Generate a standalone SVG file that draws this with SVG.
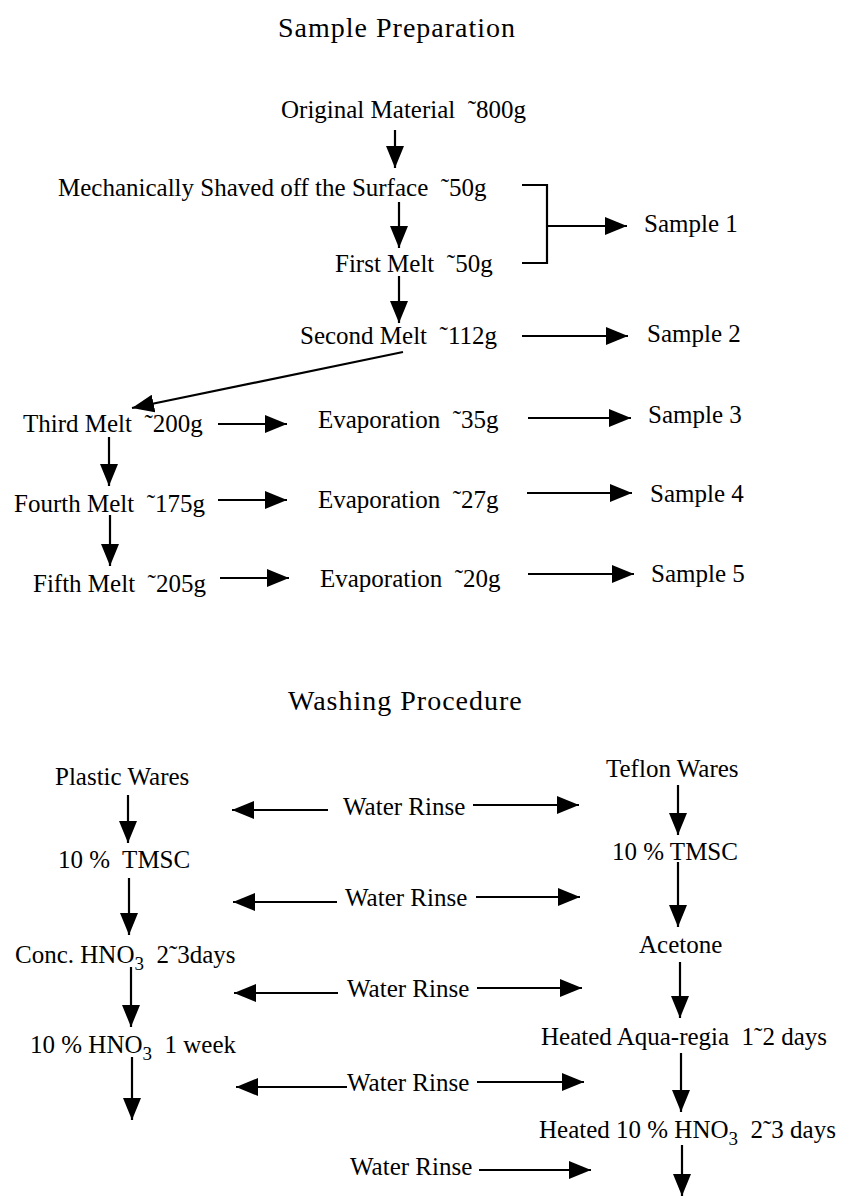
<svg xmlns="http://www.w3.org/2000/svg" width="848" height="1198" viewBox="0 0 848 1198">
<defs>
<style>
text{font-family:"Liberation Serif","Times New Roman",serif;font-size:25px;fill:#000}
.title{font-size:28px;letter-spacing:1px}
.c line,.c polyline{stroke:#000;stroke-width:2.2;fill:none}
.a{marker-end:url(#ah)}
</style>
<marker id="ah" viewBox="0 0 22 18" refX="22" refY="9" markerWidth="22" markerHeight="18" markerUnits="userSpaceOnUse" orient="auto">
<path d="M0,0 L22,9 L0,18 z" fill="#000"/>
</marker>
</defs>
<rect width="848" height="1198" fill="#fff"/>
<text class="title" x="278" y="37">Sample Preparation</text>
<g id="n-original"><text x="281" y="118">Original Material&#160; ˜800g</text></g>
<g id="n-mech"><text x="58" y="196">Mechanically Shaved off the Surface&#160; ˜50g</text></g>
<g id="n-sample1"><text x="644" y="232">Sample 1</text></g>
<g id="n-first"><text x="335" y="272">First Melt&#160; ˜50g</text></g>
<g id="n-second"><text x="300" y="344">Second Melt&#160; ˜112g</text></g>
<g id="n-sample2"><text x="647" y="342">Sample 2</text></g>
<g id="n-third"><text x="23" y="432">Third Melt&#160; ˜200g</text></g>
<g id="n-evap1"><text x="318" y="428">Evaporation&#160; ˜35g</text></g>
<g id="n-sample3"><text x="648" y="423">Sample 3</text></g>
<g id="n-fourth"><text x="14" y="512">Fourth Melt&#160; ˜175g</text></g>
<g id="n-evap2"><text x="318" y="508">Evaporation&#160; ˜27g</text></g>
<g id="n-sample4"><text x="650" y="502">Sample 4</text></g>
<g id="n-fifth"><text x="33" y="592">Fifth Melt&#160; ˜205g</text></g>
<g id="n-evap3"><text x="320" y="587">Evaporation&#160; ˜20g</text></g>
<g id="n-sample5"><text x="651" y="582">Sample 5</text></g>
<text class="title" x="288" y="710">Washing Procedure</text>
<g id="n-plastic"><text x="55" y="785">Plastic Wares</text></g>
<g id="n-ptmsc"><text x="58" y="868">10 %&#160; TMSC</text></g>
<g id="n-pconc"><text x="15" y="963">Conc. HNO<tspan dy="7" font-size="19">3</tspan><tspan dy="-7">&#160;&#160;2˜3days</tspan></text></g>
<g id="n-phno3"><text x="30" y="1053">10 % HNO<tspan dy="7" font-size="19">3</tspan><tspan dy="-7">&#160;&#160;1 week</tspan></text></g>
<g id="n-teflon"><text x="606" y="777">Teflon Wares</text></g>
<g id="n-ttmsc"><text x="612" y="860">10 % TMSC</text></g>
<g id="n-acetone"><text x="639" y="953">Acetone</text></g>
<g id="n-aqua"><text x="541" y="1045">Heated Aqua-regia&#160; 1˜2 days</text></g>
<g id="n-thno3"><text x="539" y="1138">Heated 10 % HNO<tspan dy="7" font-size="19">3</tspan><tspan dy="-7">&#160;&#160;2˜3 days</tspan></text></g>
<g id="n-rinse1"><text x="343" y="815">Water Rinse</text></g>
<g id="n-rinse2"><text x="345" y="906">Water Rinse</text></g>
<g id="n-rinse3"><text x="347" y="997">Water Rinse</text></g>
<g id="n-rinse4"><text x="347" y="1091">Water Rinse</text></g>
<g id="n-rinse5"><text x="350" y="1175">Water Rinse</text></g>
<g id="connectors" class="c">
<line class="a" x1="395" y1="130" x2="395" y2="168"/>
<line class="a" x1="399" y1="202" x2="399" y2="248"/>
<line class="a" x1="399" y1="276" x2="399" y2="323"/>
<polyline points="522,185 547,185 547,263 522,263"/>
<line class="a" x1="547" y1="226" x2="627" y2="226"/>
<line class="a" x1="522" y1="336" x2="628" y2="336"/>
<line class="a" x1="403" y1="352" x2="132" y2="408"/>
<line class="a" x1="218" y1="424" x2="287" y2="424"/>
<line class="a" x1="528" y1="418" x2="631" y2="418"/>
<line class="a" x1="109" y1="437" x2="109" y2="486"/>
<line class="a" x1="218" y1="500" x2="287" y2="500"/>
<line class="a" x1="527" y1="493" x2="632" y2="493"/>
<line class="a" x1="110" y1="515" x2="110" y2="566"/>
<line class="a" x1="220" y1="578" x2="289" y2="578"/>
<line class="a" x1="528" y1="574" x2="634" y2="574"/>
<line class="a" x1="128" y1="795" x2="128" y2="843"/>
<line class="a" x1="129" y1="878" x2="129" y2="935"/>
<line class="a" x1="131" y1="967" x2="131" y2="1027"/>
<line class="a" x1="132" y1="1057" x2="132" y2="1120"/>
<line class="a" x1="678" y1="785" x2="678" y2="835"/>
<line class="a" x1="678" y1="862" x2="678" y2="927"/>
<line class="a" x1="680" y1="962" x2="680" y2="1018"/>
<line class="a" x1="681" y1="1053" x2="681" y2="1112"/>
<line class="a" x1="682" y1="1145" x2="682" y2="1196"/>
<line class="a" x1="328" y1="810" x2="232" y2="810"/>
<line class="a" x1="473" y1="805" x2="579" y2="805"/>
<line class="a" x1="337" y1="902" x2="233" y2="902"/>
<line class="a" x1="476" y1="897" x2="580" y2="897"/>
<line class="a" x1="338" y1="993" x2="234" y2="993"/>
<line class="a" x1="477" y1="988" x2="582" y2="988"/>
<line class="a" x1="347" y1="1087" x2="236" y2="1087"/>
<line class="a" x1="477" y1="1082" x2="584" y2="1082"/>
<line class="a" x1="479" y1="1170" x2="591" y2="1170"/>
</g>
</svg>
